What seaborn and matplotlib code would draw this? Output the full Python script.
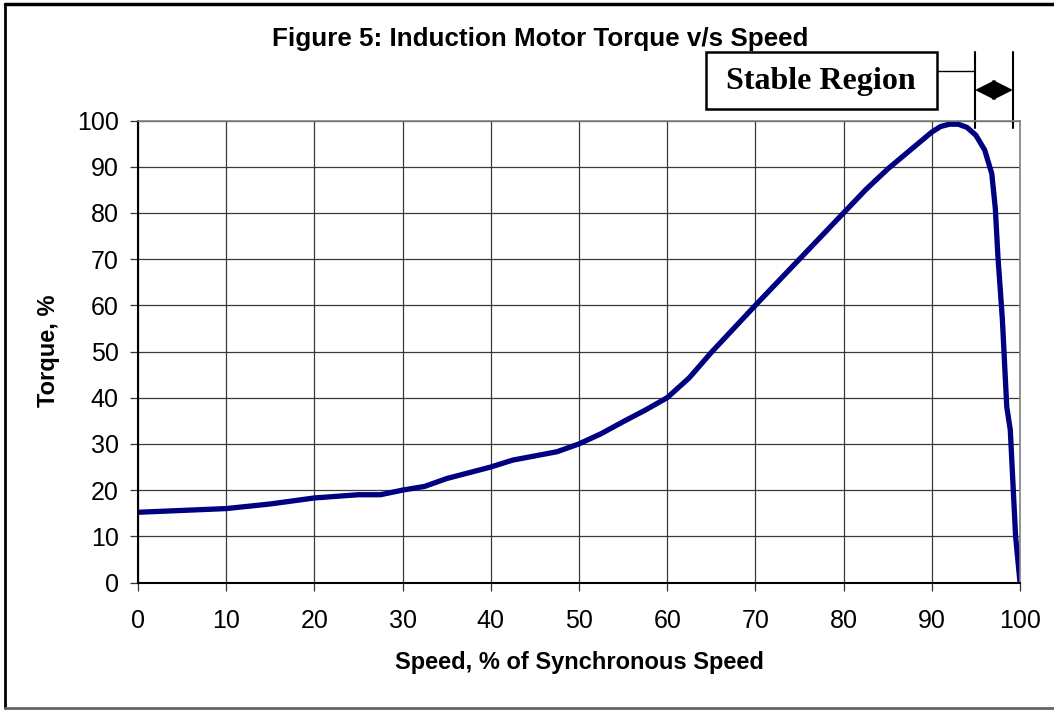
import numpy as np
import seaborn as sns
import matplotlib
matplotlib.use('Agg')
import matplotlib.pyplot as plt
from matplotlib.patches import Rectangle
from matplotlib.lines import Line2D

# speed (% of synchronous) vs torque (%)
speed = [0, 10, 15, 20, 25, 27.5, 30, 32.5, 35, 40, 42.5, 47.5, 50, 52.5, 55,
         57.5, 60, 62.5, 65, 70, 75, 80, 82.5, 85, 87.5, 90, 91, 92, 93, 94,
         95, 96, 96.8, 97.2, 97.5, 98, 98.5, 98.9, 99.5, 100]
torque = [15.2, 16.0, 17.0, 18.3, 19.0, 19.0, 20.0, 20.8, 22.5, 25.0, 26.5,
          28.3, 30.0, 32.2, 34.8, 37.3, 40.0, 44.3, 49.8, 60.0, 70.0, 80.0,
          85.0, 89.5, 93.5, 97.5, 98.7, 99.2, 99.2, 98.5, 96.8, 93.6, 88.5,
          81.0, 70.5, 57.0, 38.0, 33.0, 10.0, 0.0]
xticks = list(range(0, 101, 10))
yticks = list(range(0, 101, 10))

stable_start = 94.9
stable_end = 99.2

W, H = 1054, 710


def px(x, y):
    return x / W, 1 - y / H


sns.set_style("white")
plt.rcParams['font.family'] = ['Liberation Sans', 'DejaVu Sans']
plt.rcParams['text.color'] = 'black'
plt.rcParams['xtick.color'] = 'black'
plt.rcParams['ytick.color'] = 'black'
plt.rcParams['axes.labelcolor'] = 'black'

fig = plt.figure(figsize=(W / 100, H / 100), dpi=100)
ax = fig.add_axes([138 / W, 1 - 582.5 / H, (1020 - 138) / W, (582.5 - 120.5) / H])

sns.lineplot(x=speed, y=torque, ax=ax, color='#000080', lw=3.8,
             solid_joinstyle='round', solid_capstyle='butt')

ax.set_xlim(0, 100)
ax.set_ylim(0, 100)
ax.set_xticks(xticks)
ax.set_yticks(yticks)
ax.grid(True, color='#3a3a3a', lw=0.9)
ax.set_axisbelow(True)
for s in ['left', 'bottom']:
    ax.spines[s].set_color('black')
    ax.spines[s].set_linewidth(1.5)
for s in ['top', 'right']:
    ax.spines[s].set_color('#808080')
    ax.spines[s].set_linewidth(1.2)
ax.tick_params(axis='x', direction='out', length=6, width=0.9, color='#333333',
               labelsize=18, pad=13, bottom=True)
ax.tick_params(axis='y', direction='out', length=6, width=0.9, color='#333333',
               labelsize=18, pad=8, left=True)
ax.set_xlabel('')
ax.set_ylabel('')

fig.text(*px(540, 39), 'Figure 5: Induction Motor Torque v/s Speed',
         ha='center', va='center', fontsize=18.7, fontweight='bold')
fig.text(*px(579, 663), 'Speed, % of Synchronous Speed',
         ha='center', va='center', fontsize=17, fontweight='bold')
fig.text(*px(48, 351), 'Torque, %', rotation=90,
         ha='center', va='center', fontsize=17, fontweight='bold')

# stable region label box
x0, y0 = px(706, 109)
x1, y1 = px(937, 52)
fig.patches.append(Rectangle((x0, y0), x1 - x0, y1 - y0, transform=fig.transFigure,
                             fill=True, facecolor='white', edgecolor='black', lw=1.8))
fig.text(*px(821, 82), 'Stable Region', ha='center', va='center',
         fontsize=23, fontweight='bold', family=['Liberation Serif', 'DejaVu Serif'])

# bracket lines marking the stable region
for xv in [stable_start, stable_end]:
    ax.plot([xv, xv], [98.4, 114.8], color='black', lw=1.5, clip_on=False)
ax.plot([94.9 - (975 - 937) / 8.82, stable_start], [110.7, 110.7],
        color='black', lw=1.0, clip_on=False)
ax.annotate('', xy=(stable_end, 106.6), xytext=(stable_start, 106.6),
            xycoords='data', textcoords='data', annotation_clip=False,
            arrowprops=dict(arrowstyle='<|-|>,head_length=0.9,head_width=0.45',
                            color='black', lw=1.5, mutation_scale=14,
                            shrinkA=0, shrinkB=0))

# outer frame
fig.lines.append(Line2D([5 / W, 1.01], [1 - 4 / H, 1 - 4 / H], transform=fig.transFigure,
                        color='black', lw=2.5))
fig.lines.append(Line2D([5 / W, 5 / W], [1 - 4 / H, 1 - 708 / H], transform=fig.transFigure,
                        color='black', lw=2))
fig.lines.append(Line2D([5 / W, 1.01], [1 - 708 / H, 1 - 708 / H], transform=fig.transFigure,
                        color='#666666', lw=2))

fig.savefig('out.png', dpi=100, facecolor='white')
